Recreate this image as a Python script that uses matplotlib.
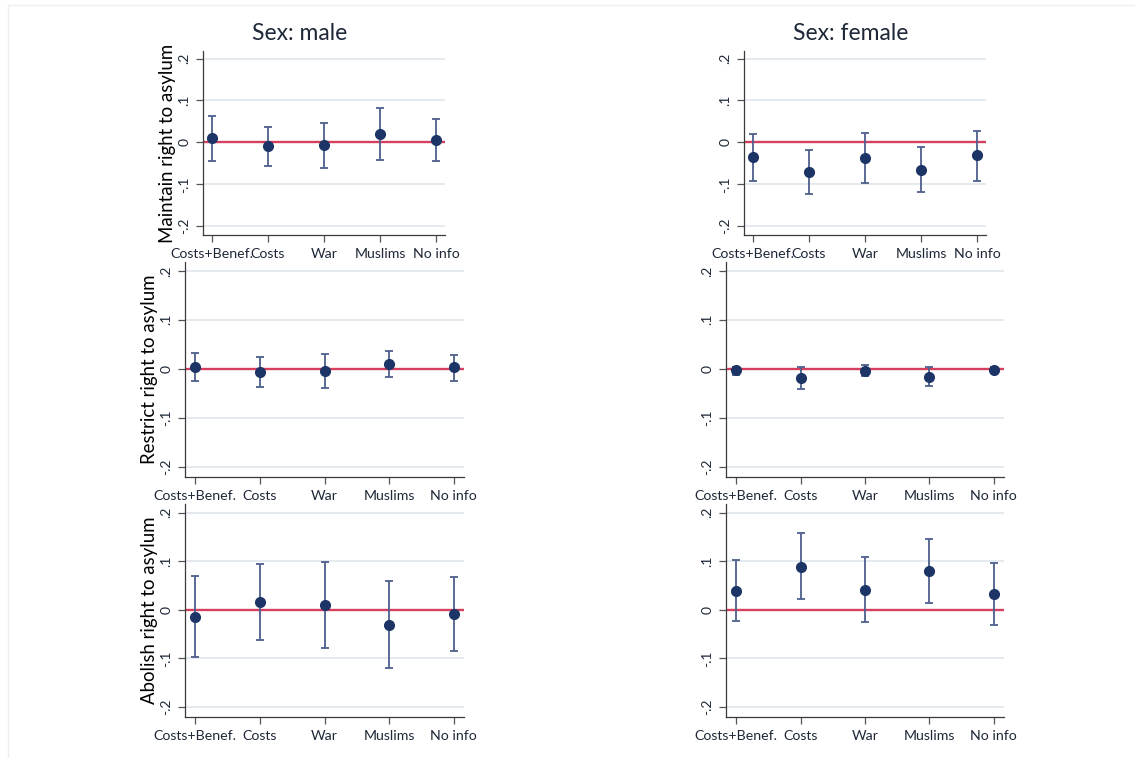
import matplotlib
matplotlib.use("Agg")
import matplotlib.pyplot as plt
from matplotlib.lines import Line2D
import numpy as np

plt.rcParams["font.family"] = ["Lato", "DejaVu Sans"]

# Treatment groups on the x axis
categories = ["Costs+Benef.", "Costs", "War", "Muslims", "No info"]
y_ticks = [-0.2, -0.1, 0.0, 0.1, 0.2]
y_tick_labels = ["-.2", "-.1", "0", ".1", ".2"]
outcomes = ["Maintain right to asylum", "Restrict right to asylum", "Abolish right to asylum"]
sexes = ["male", "female"]

# Point estimates and 95% confidence bounds, one list per outcome and sex
maintain_male_est = [0.0096, -0.0096, -0.007, 0.020, 0.0056]
maintain_male_lo = [-0.045, -0.056, -0.060, -0.042, -0.044]
maintain_male_hi = [0.062, 0.037, 0.047, 0.083, 0.056]

maintain_female_est = [-0.036, -0.071, -0.0375, -0.065, -0.031]
maintain_female_lo = [-0.093, -0.1235, -0.097, -0.119, -0.091]
maintain_female_hi = [0.021, -0.0175, 0.0215, -0.0104, 0.028]

restrict_male_est = [0.0041, -0.0075, -0.0048, 0.0089, 0.0027]
restrict_male_lo = [-0.0246, -0.0376, -0.0397, -0.017, -0.0246]
restrict_male_hi = [0.032, 0.024, 0.030, 0.036, 0.029]

restrict_female_est = [-0.0034, -0.019, -0.0048, -0.0164, -0.002]
restrict_female_lo = [-0.013, -0.041, -0.0157, -0.0356, -0.0075]
restrict_female_hi = [0.004, 0.0027, 0.0068, 0.004, 0.0027]

abolish_male_est = [-0.0144, 0.0158, 0.0096, -0.0308, -0.0089]
abolish_male_lo = [-0.0966, -0.0623, -0.078, -0.119, -0.0856]
abolish_male_hi = [0.069, 0.094, 0.0993, 0.0589, 0.0678]

abolish_female_est = [0.0397, 0.089, 0.041, 0.0795, 0.0329]
abolish_female_lo = [-0.0233, 0.0219, -0.0253, 0.013, -0.0308]
abolish_female_hi = [0.102, 0.158, 0.108, 0.1466, 0.097]

panels = [
    [(maintain_male_est, maintain_male_lo, maintain_male_hi),
     (maintain_female_est, maintain_female_lo, maintain_female_hi)],
    [(restrict_male_est, restrict_male_lo, restrict_male_hi),
     (restrict_female_est, restrict_female_lo, restrict_female_hi)],
    [(abolish_male_est, abolish_male_lo, abolish_male_hi),
     (abolish_female_est, abolish_female_lo, abolish_female_hi)],
]

W, H = 1135, 758
fig = plt.figure(figsize=(W / 100, H / 100), dpi=100)
fig.patch.set_facecolor("white")

# Faint outer frame lines along the top and left of the canvas
fig.add_artist(Line2D([8 / W, 1.0], [1 - 5 / H, 1 - 5 / H], color="#eeeeee", lw=1.0))
fig.add_artist(Line2D([8 / W, 8 / W], [0.0, 1 - 5 / H], color="#eeeeee", lw=1.0))

# Plot regions in pixels: (left, top, right, bottom)
boxes = [
    [(203, 51, 445, 235), (744, 51, 986, 235)],
    [(185, 262, 464, 477), (726, 262, 1004, 477)],
    [(185, 504, 464, 717), (726, 504, 1004, 717)],
]
# Column title centres in pixels (x, y)
title_pos = [(300, 33), (851, 33)]

marker_color = "#1c3566"
bar_color = "#4d5f8c"
zero_color = "#d5405f"
grid_color = "#e3e8f0"
text_color = "#1e2838"

x = np.arange(1, len(categories) + 1)

for r in range(3):
    for c in range(2):
        l, t, rr, b = boxes[r][c]
        ax = fig.add_axes([l / W, 1 - b / H, (rr - l) / W, (b - t) / H])
        est, lo, hi = (np.array(v) for v in panels[r][c])

        ax.set_xlim(0.84, 5.16)
        ax.set_ylim(-0.221, 0.218)
        ax.set_yticks(y_ticks)
        ax.set_yticklabels(y_tick_labels, rotation=90, va="center")
        ax.set_xticks(x)
        ax.set_xticklabels(categories)

        for yv in y_ticks:
            ax.axhline(yv, color=grid_color, lw=1.3, zorder=0)
        ax.axhline(0, color=zero_color, lw=1.7, zorder=1)

        ax.errorbar(x, est, yerr=[est - lo, hi - est], fmt="none",
                    ecolor=bar_color, elinewidth=1.3, capsize=3.0,
                    capthick=1.3, zorder=2)
        ax.plot(x, est, "o", color=marker_color, ms=7.0, zorder=3)

        for side in ("top", "right"):
            ax.spines[side].set_visible(False)
        for side in ("left", "bottom"):
            ax.spines[side].set_color("#3a3a3a")
            ax.spines[side].set_linewidth(0.9)
        ax.tick_params(axis="both", direction="out", length=5, width=0.9,
                       color="#555555", labelsize=10, labelcolor=text_color, pad=4)
        ax.tick_params(axis="x", labelsize=10.2)

        if c == 0:
            ax.set_ylabel(outcomes[r], fontsize=13.4, color="black", labelpad=2)

for c in range(2):
    tx, ty = title_pos[c]
    fig.text(tx / W, 1 - ty / H, "Sex: " + sexes[c], fontsize=16.5,
             color=text_color, ha="center", va="center")

fig.savefig("out.png", dpi=100, facecolor="white")
